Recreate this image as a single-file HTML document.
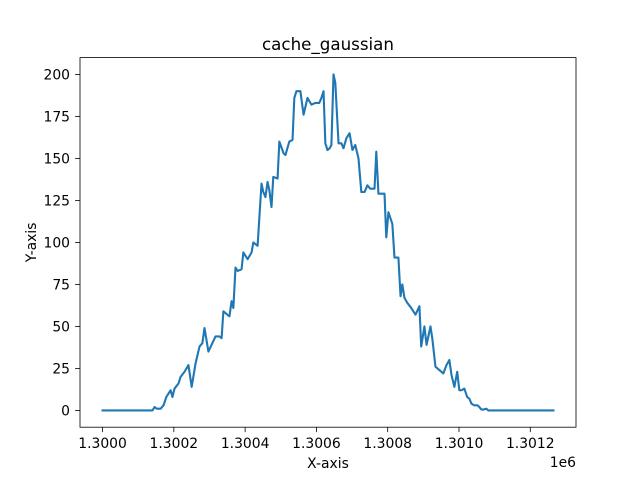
<!DOCTYPE html>
<html><head><meta charset="utf-8"><style>
body{margin:0;background:#fff;}
svg text{font-family:"DejaVu Sans","Liberation Sans",sans-serif;fill:#000;}
</style></head><body>
<svg id="chart" width="640" height="480" xmlns="http://www.w3.org/2000/svg"></svg>
<script>
const xOffsets=[0,140,146,152,163,171,179,191,196,202,213,219,230,241,250,261,272,280,286,297,308,317,328,334,339,350,356,362,367,373,379,390,395,407,418,423,435,440,446,451,457,463,468,474,479,491,496,508,513,524,533,538,544,555,564,575,586,597,608,614,620,625,631,637,642,648,653,662,670,676,684,693,701,709,718,726,735,743,751,763,768,774,785,791,796,802,813,819,830,836,841,847,855,866,878,889,894,903,909,920,925,934,945,956,965,973,979,987,995,1001,1007,1015,1023,1029,1035,1043,1052,1057,1063,1068,1077,1082,1088,1265];
const yValues=[0,0,2,1,1,3,8,12,8,13,16,20,23,27,14,28,38,40,49,35,40,44,44,43,59,57,56,65,61,85,83,84,94,90,94,100,98,115,135,130,127,136,131,121,139,138,160,153,152,160,161,186,190,190,176,186,182,183,183,186,190,159,155,156,158,200,195,159,159,156,162,165,155,158,150,130,130,134,132,132,154,129,129,129,103,118,111,91,91,68,75,67,64,61,57,62,38,50,39,50,43,26,24,22,27,30,21,14,23,12,12,13,8,7,4,3,3,2,0.5,0.5,1,0,0,0];
const xTicks=[1300000,1300200,1300400,1300600,1300800,1301000,1301200];
const xTickLabels=["1.3000","1.3002","1.3004","1.3006","1.3008","1.3010","1.3012"];
const yTicks=[0,25,50,75,100,125,150,175,200];
const xBase=1300000;

const svg=document.getElementById('chart');
const NS='http://www.w3.org/2000/svg';
const L=80,R=576,T=57.6,B=427.2;
const xs=xOffsets.map(o=>o+xBase);
const xmin=Math.min(...xs),xmax=Math.max(...xs),ymin=Math.min(...yValues),ymax=Math.max(...yValues);
const xlo=xmin-(xmax-xmin)*0.05,xhi=xmax+(xmax-xmin)*0.05;
const ylo=ymin-(ymax-ymin)*0.05,yhi=ymax+(ymax-ymin)*0.05;
const X=v=>L+(v-xlo)/(xhi-xlo)*(R-L);
const Y=v=>B-(v-ylo)/(yhi-ylo)*(B-T);
function mk(tag,attrs,text){const e=document.createElementNS(NS,tag);for(const k in attrs)e.setAttribute(k,attrs[k]);if(text!==undefined)e.textContent=text;svg.appendChild(e);return e;}

let d='';xs.forEach((x,i)=>{d+=(i?'L':'M')+X(x).toFixed(2)+','+Y(yValues[i]).toFixed(2);});
const line=mk('path',{d:d,fill:'none',stroke:'#1f77b4','stroke-width':2.1,'stroke-linejoin':'round','stroke-linecap':'square'});



const frame=mk('rect',{x:L,y:T,width:R-L,height:B-T,fill:'none',stroke:'#000','stroke-width':0.8});



xTicks.forEach((t,i)=>{const px=X(t);
 const tk=mk('line',{x1:px,x2:px,y1:B,y2:B+4.9,stroke:'#000','stroke-width':0.8});
 
 
 const lb=mk('text',{x:px,y:448,'font-size':13.9,'text-anchor':'middle'},xTickLabels[i]);
 
 
});
yTicks.forEach(t=>{const py=Y(t);
 const tk=mk('line',{x1:L-4.9,x2:L,y1:py,y2:py,stroke:'#000','stroke-width':0.8});
 
 
 const lb=mk('text',{x:L-10,y:py+5,'font-size':13.9,'text-anchor':'end'},String(t));
 
 
});
const ti=mk('text',{x:(L+R)/2,y:50,'font-size':16.7,'text-anchor':'middle'},'cache_gaussian');


const xl=mk('text',{x:(L+R)/2,y:468,'font-size':13.9,'text-anchor':'middle'},'X-axis');


const yl=mk('text',{x:0,y:0,'font-size':13.9,'text-anchor':'middle',transform:'translate(36,'+((T+B)/2)+') rotate(-90)'},'Y-axis');


const ex=mk('text',{x:R,y:467,'font-size':13.9,'text-anchor':'end'},'1e6');


</script>
</body></html>
